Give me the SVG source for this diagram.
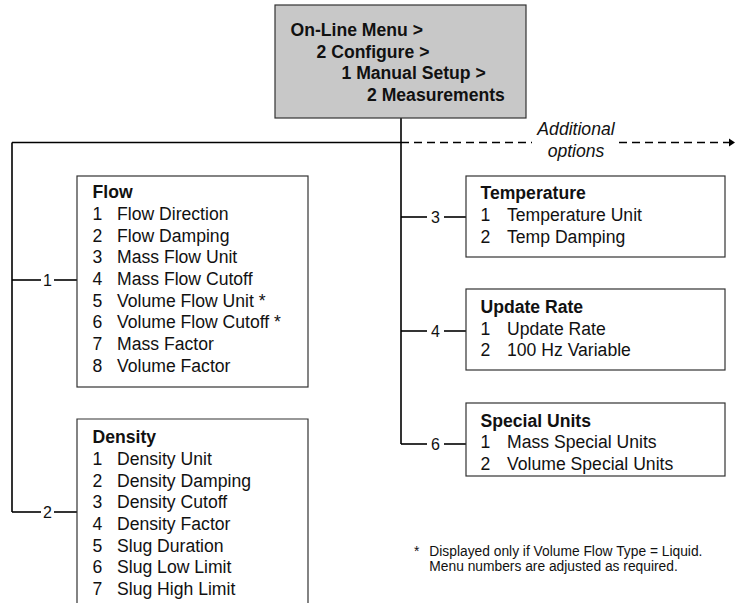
<svg xmlns="http://www.w3.org/2000/svg" width="737" height="603" viewBox="0 0 737 603">
<style>
text{font-family:"Liberation Sans",Arial,sans-serif;fill:#111;}
.t{font-size:17.6px;}
.b{font-size:17.6px;font-weight:bold;}
.lbl{font-size:16px;text-anchor:middle;}
.it{font-size:17.6px;font-style:italic;text-anchor:middle;}
.fn{font-size:13.8px;}
.box{fill:#fff;stroke:#333;stroke-width:1.2;}
.conn{stroke:#000;stroke-width:1.6;fill:none;}
.dash{stroke:#000;stroke-width:1.6;fill:none;stroke-dasharray:8 5;}
</style>
<g id="connectors">
<line class="conn" x1="401" y1="118" x2="401" y2="444"/>
<line class="conn" x1="12" y1="142.5" x2="401" y2="142.5"/>
<line class="conn" x1="12" y1="142.5" x2="12" y2="512"/>
<line class="dash" x1="401" y1="142.5" x2="532" y2="142.5"/>
<line class="dash" x1="619" y1="142.5" x2="729" y2="142.5"/>
<polygon points="729,138.5 735,142.5 729,146.5" fill="#000"/>
<text class="it" x="576" y="134.5">Additional</text>
<text class="it" x="576" y="156.5">options</text>
<line class="conn" x1="12" y1="280" x2="41" y2="280"/>
<line class="conn" x1="54" y1="280" x2="77" y2="280"/>
<text class="lbl" x="47.5" y="285.7">1</text>
<line class="conn" x1="12" y1="512" x2="41" y2="512"/>
<line class="conn" x1="54" y1="512" x2="77" y2="512"/>
<text class="lbl" x="47.5" y="517.7">2</text>
<line class="conn" x1="401" y1="217" x2="427" y2="217"/>
<line class="conn" x1="444" y1="217" x2="466" y2="217"/>
<text class="lbl" x="435.5" y="222.7">3</text>
<line class="conn" x1="401" y1="331" x2="427" y2="331"/>
<line class="conn" x1="444" y1="331" x2="466" y2="331"/>
<text class="lbl" x="435.5" y="336.7">4</text>
<line class="conn" x1="401" y1="444" x2="427" y2="444"/>
<line class="conn" x1="444" y1="444" x2="466" y2="444"/>
<text class="lbl" x="435.5" y="449.7">6</text>
</g>
<g id="root">
<rect x="275" y="5" width="251" height="113" fill="#c8c8c8" stroke="#333" stroke-width="1.2"/>
<text class="b" x="290.5" y="36">On-Line Menu &gt;</text>
<text class="b" x="316.5" y="57.7">2 Configure &gt;</text>
<text class="b" x="341.5" y="79.4">1 Manual Setup &gt;</text>
<text class="b" x="367" y="101">2 Measurements</text>
</g>
<g id="flow">
<rect class="box" x="77" y="176" width="231" height="211"/>
<text class="b" x="92.5" y="198.3">Flow</text>
<g class="t">
<text x="92.5" y="220">1</text><text x="117" y="220">Flow Direction</text>
<text x="92.5" y="241.7">2</text><text x="117" y="241.7">Flow Damping</text>
<text x="92.5" y="263.3">3</text><text x="117" y="263.3">Mass Flow Unit</text>
<text x="92.5" y="285">4</text><text x="117" y="285">Mass Flow Cutoff</text>
<text x="92.5" y="306.7">5</text><text x="117" y="306.7">Volume Flow Unit *</text>
<text x="92.5" y="328.3">6</text><text x="117" y="328.3">Volume Flow Cutoff *</text>
<text x="92.5" y="350">7</text><text x="117" y="350">Mass Factor</text>
<text x="92.5" y="371.7">8</text><text x="117" y="371.7">Volume Factor</text>
</g>
</g>
<g id="density">
<path d="M77,603 V419 H308 V603" fill="#fff" stroke="#333" stroke-width="1.2"/>
<text class="b" x="92.5" y="443.3">Density</text>
<g class="t">
<text x="92.5" y="465">1</text><text x="117" y="465">Density Unit</text>
<text x="92.5" y="486.7">2</text><text x="117" y="486.7">Density Damping</text>
<text x="92.5" y="508.3">3</text><text x="117" y="508.3">Density Cutoff</text>
<text x="92.5" y="530">4</text><text x="117" y="530">Density Factor</text>
<text x="92.5" y="551.7">5</text><text x="117" y="551.7">Slug Duration</text>
<text x="92.5" y="573.3">6</text><text x="117" y="573.3">Slug Low Limit</text>
<text x="92.5" y="595">7</text><text x="117" y="595">Slug High Limit</text>
</g>
</g>
<g id="temperature">
<rect class="box" x="466" y="176" width="259" height="81"/>
<text class="b" x="480.5" y="199.3">Temperature</text>
<g class="t">
<text x="480.5" y="221">1</text><text x="507" y="221">Temperature Unit</text>
<text x="480.5" y="242.7">2</text><text x="507" y="242.7">Temp Damping</text>
</g>
</g>
<g id="update-rate">
<rect class="box" x="466" y="289" width="259" height="81"/>
<text class="b" x="480.5" y="312.7">Update Rate</text>
<g class="t">
<text x="480.5" y="334.5">1</text><text x="507" y="334.5">Update Rate</text>
<text x="480.5" y="356">2</text><text x="507" y="356">100 Hz Variable</text>
</g>
</g>
<g id="special-units">
<rect class="box" x="466" y="403" width="259" height="73"/>
<text class="b" x="480.5" y="426.7">Special Units</text>
<g class="t">
<text x="480.5" y="448">1</text><text x="507" y="448">Mass Special Units</text>
<text x="480.5" y="469.5">2</text><text x="507" y="469.5">Volume Special Units</text>
</g>
</g>
<g id="footnote">
<text class="fn" x="414" y="555.5">*</text>
<text class="fn" x="429.3" y="555.5">Displayed only if Volume Flow Type = Liquid.</text>
<text class="fn" x="429.3" y="571">Menu numbers are adjusted as required.</text>
</g>
</svg>
